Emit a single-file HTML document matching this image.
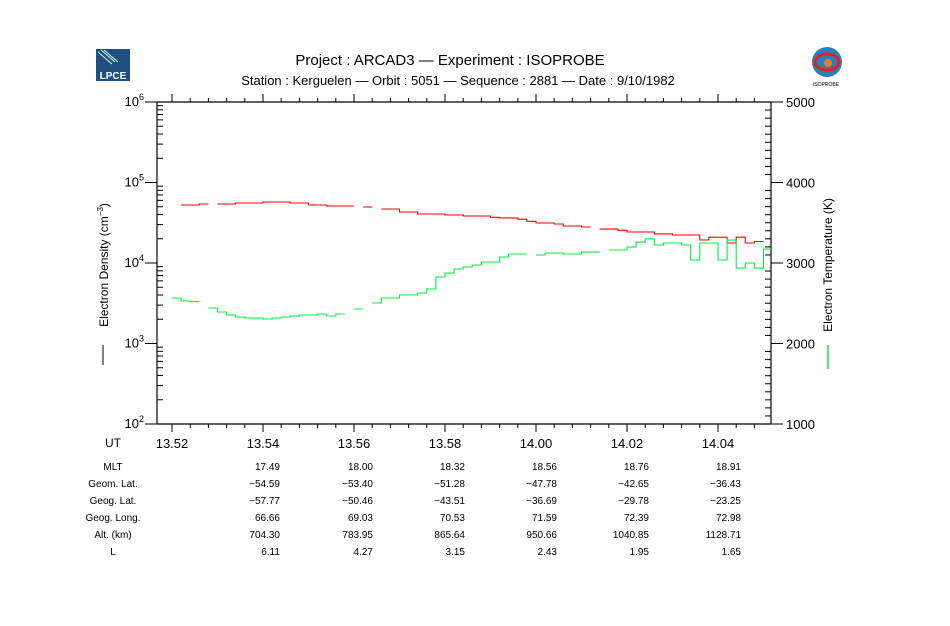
<!DOCTYPE html>
<html><head><meta charset="utf-8"><style>
body{margin:0;background:#fff;}
svg text{font-family:"Liberation Sans","DejaVu Sans",sans-serif;fill:#000;}
</style></head><body>
<svg id="chart" width="950" height="621" viewBox="0 0 950 621" xmlns="http://www.w3.org/2000/svg">
<rect width="950" height="621" fill="#fff"/>
<g>
<rect x="96" y="49" width="34" height="32" fill="#1e4f7e"/>
<line x1="98" y1="52" x2="112" y2="64" stroke="#cfe" stroke-width="1"/>
<line x1="101" y1="50" x2="115" y2="62" stroke="#cfe" stroke-width="1"/>
<line x1="104" y1="50" x2="118" y2="62" stroke="#cfe" stroke-width="1"/>
<text x="113" y="79" font-size="10" font-weight="bold" text-anchor="middle" style="fill:#fff">LPCE</text>
</g>
<g>
<circle cx="827" cy="62" r="15" fill="#2a7fc4"/>
<ellipse cx="827" cy="62" rx="12" ry="8" fill="none" stroke="#e02020" stroke-width="3"/>
<circle cx="828" cy="63" r="4" fill="#e08020"/>
<text x="826" y="86" font-size="5" text-anchor="middle">ISOPROBE</text>
</g>
<text x="450" y="65" font-size="15" text-anchor="middle">Project : ARCAD3  —  Experiment : ISOPROBE</text>
<text x="458" y="85" font-size="13" text-anchor="middle">Station : Kerguelen  —  Orbit :  5051  —  Sequence : 2881  —  Date : 9/10/1982</text>
<g id="axes"></g>
<g id="series"></g>
<text transform="translate(108,265) rotate(-90)" font-size="12" text-anchor="middle">Electron Density (cm<tspan font-size="8" dy="-5">−3</tspan><tspan dy="5">)</tspan></text>
<line x1="103" y1="345" x2="103" y2="365" stroke="#000" stroke-width="1"/>
<text transform="translate(832,265) rotate(-90)" font-size="12" text-anchor="middle">Electron Temperature (K)</text>
<line x1="828" y1="345" x2="828" y2="369" stroke="#00f040" stroke-width="1.5"/>
<text x="105" y="447" font-size="12">UT</text>
<g id="table"></g>
</svg>
<script>
const times=[0,0.2,0.4,0.6,0.8,1.0,1.2,1.4,1.6,1.8,2.0,2.2,2.4,2.6,2.8,3.0,3.2,3.4,3.6,3.8,4.0,4.2,4.4,4.6,4.8,5.0,5.2,5.4,5.6,5.8,6.0,6.2,6.4,6.6,6.8,7.0,7.2,7.4,7.6,7.8,8.0,8.2,8.4,8.6,8.8,9.0,9.2,9.4,9.6,9.8,10.0,10.2,10.4,10.6,10.8,11.0,11.2,11.4,11.6,11.8,12.0,12.2,12.4,12.6,12.8,13.0];
const density=[null,52500,52500,54000,null,54000,54000,55600,55600,55600,57300,57300,57300,55600,55600,52500,52500,51000,51000,51000,null,49600,null,46900,46900,43000,43000,40600,40600,40600,39500,39500,38400,38400,38400,37000,36300,36300,35000,33000,31400,31400,30500,28800,28800,28000,null,26400,26400,25500,24300,24300,24300,23000,23000,22300,22300,22300,19300,20900,20900,17700,20900,17700,18500,null];
const temperature=[2565,2528,2520,null,2441,2391,2354,2329,2317,2317,2304,2317,2329,2341,2354,2354,2366,2341,2366,null,2429,null,2503,2565,2565,2602,2602,2627,2677,2826,2875,2925,2950,2975,3012,3012,3074,3112,3112,null,3099,3124,3124,3112,3112,3136,3136,null,3161,3161,3198,3260,3300,3223,3248,3248,3223,3037,3248,3248,3037,3285,2937,3000,2937,3174];
const xTickLabels=["13.52","13.54","13.56","13.58","14.00","14.02","14.04"];
const leftTickExp=[2,3,4,5,6];
const rightTickLabels=[1000,2000,3000,4000,5000];
const rowLabels=["MLT","Geom. Lat.","Geog. Lat.","Geog. Long.","Alt. (km)","L"];
const rowMLT=["17.49","18.00","18.32","18.56","18.76","18.91"];
const rowGeomLat=["−54.59","−53.40","−51.28","−47.78","−42.65","−36.43"];
const rowGeogLat=["−57.77","−50.46","−43.51","−36.69","−29.78","−23.25"];
const rowGeogLong=["66.66","69.03","70.53","71.59","72.39","72.98"];
const rowAlt=["704.30","783.95","865.64","950.66","1040.85","1128.71"];
const rowL=["6.11","4.27","3.15","2.43","1.95","1.65"];

const NS='http://www.w3.org/2000/svg';
const L=157,R=771,T=102,B=424;
const x=t=>172+t*45.5;
const yLog=v=>B-(Math.log10(v)-2)*(B-T)/4;
const yLin=v=>B-(v-1000)*(B-T)/4000;
function mk(tag,at,parent){const e=document.createElementNS(NS,tag);for(const k in at)e.setAttribute(k,at[k]);parent.appendChild(e);return e;}
const axes=document.getElementById('axes');
const frame=mk('path',{d:`M${L},${T}H${R}M${L},${B}H${R}M${L},${T}V${B}M${R},${T}V${B}`,stroke:'#000','stroke-width':1.2,fill:'none'},axes);


for(let i=0;i<xTickLabels.length;i++){
  const xx=x(i*2);
  const tk=mk('path',{d:`M${xx},${B}v8M${xx},${T}v-8`,stroke:'#000','stroke-width':1},axes);
  
  
  const tx=mk('text',{x:xx,y:448,'font-size':13,'text-anchor':'middle'},axes);tx.textContent=xTickLabels[i];
  
  
}
for(let t=-0.4;t<13.5;t+=0.4){const xx=x(t);if(xx<L||xx>R)continue;
  const m=mk('path',{d:`M${xx},${B}v4M${xx},${T}v-4`,stroke:'#000','stroke-width':1},axes);
  
  
}
for(const e of leftTickExp){
  const yy=yLog(Math.pow(10,e));
  const tk=mk('line',{x1:L-12,x2:L,y1:yy,y2:yy,stroke:'#000','stroke-width':1},axes);
  
  
  const tx=mk('text',{x:L-13,y:yy+4,'font-size':13,'text-anchor':'end'},axes);
  tx.innerHTML='10<tspan font-size="9" dy="-6">'+e+'</tspan>';
  
  
  if(e<6)for(let k=2;k<10;k++){const y2=yLog(k*Math.pow(10,e));
    const m=mk('line',{x1:L,x2:L+6,y1:y2,y2:y2,stroke:'#000','stroke-width':1},axes);
    
    }
}
for(const v of rightTickLabels){
  const yy=yLin(v);
  const tk=mk('line',{x1:R,x2:R+12,y1:yy,y2:yy,stroke:'#000','stroke-width':1},axes);
  
  
  const tx=mk('text',{x:R+15,y:yy+5,'font-size':13},axes);tx.textContent=v;
  
  
}
for(let v=1100;v<5000;v+=100){if(v%1000===0)continue;const yy=yLin(v);
  const m=mk('line',{x1:R-6,x2:R,y1:yy,y2:yy,stroke:'#000','stroke-width':1},axes);
  
  }
function stepPath(vals,yf){let d='',prev=null;const step=0.2;
  for(let i=0;i<times.length;i++){const v=vals[i];if(v==null){prev=null;continue;}
    const x0=x(times[i]),x1=x(times[i]+step),yy=yf(v);
    if(prev==null)d+=`M${x0.toFixed(1)},${yy.toFixed(1)}`;else d+=`V${yy.toFixed(1)}`;
    d+=`H${x1.toFixed(1)}`;prev=yy;}
  return d;}
const ser=document.getElementById('series');
const pd=mk('path',{d:stepPath(density,yLog),stroke:'#ff0000','stroke-width':1.1,fill:'none'},ser);


const pt=mk('path',{d:stepPath(temperature,yLin),stroke:'#00f040','stroke-width':1.1,fill:'none'},ser);


const tb=document.getElementById('table');
const rows=[rowMLT,rowGeomLat,rowGeogLat,rowGeogLong,rowAlt,rowL];
const rowY=[470,487,504,521,538,555];
const colX=[280,373,465,557,649,741];
for(let r=0;r<rows.length;r++){
  const lb=mk('text',{x:113,y:rowY[r],'font-size':10,'text-anchor':'middle'},tb);lb.textContent=rowLabels[r];
  
  
  for(let c=0;c<colX.length;c++){
    const tv=mk('text',{x:colX[c],y:rowY[r],'font-size':10,'text-anchor':'end'},tb);tv.textContent=rows[r][c];
    
    
  }
}
</script>
</body></html>
